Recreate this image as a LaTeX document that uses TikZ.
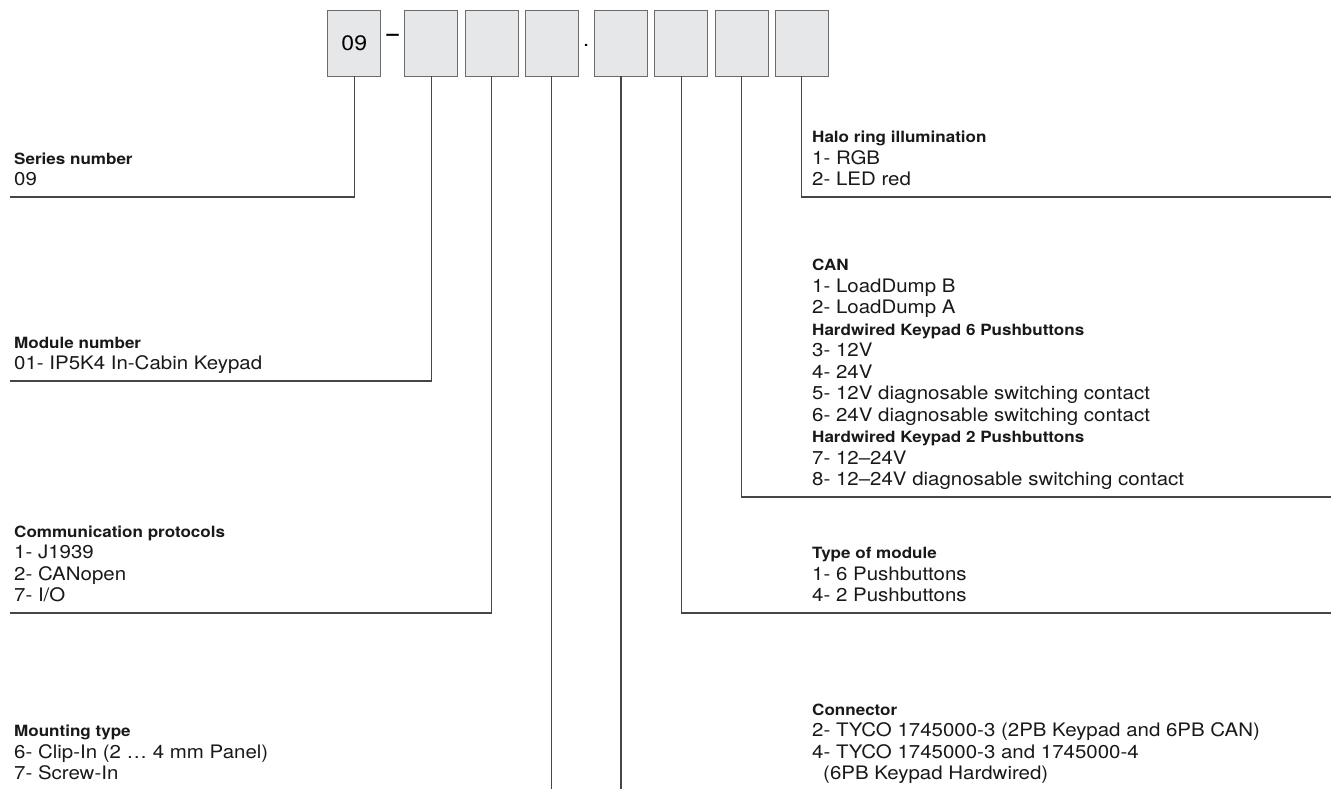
\documentclass[tikz,border=0pt]{standalone}
\usepackage{fontspec}
\setmainfont{TeX Gyre Heros}[FakeStretch=1.1]
\usetikzlibrary{positioning}

\definecolor{boxgray}{RGB}{230,231,232}
\definecolor{linegray}{RGB}{70,70,70}
\newcommand{\grp}[1]{{\bfseries\fontsize{15.5}{21.5}\selectfont #1}}

\tikzstyle{digit} = [draw=linegray!80, line width=0.8pt, rectangle, minimum width=53pt, minimum height=66pt, inner sep=0pt, fill=boxgray, font=\fontsize{21}{21}\selectfont]
\tikzstyle{sep} = [inner sep=0pt, font=\bfseries\fontsize{20}{20}\selectfont]
\tikzstyle{info} = [anchor=south west, align=left, inner sep=0pt, text depth=0pt, text=black!90, font=\fontsize{18.6}{21.5}\selectfont]
\tikzstyle{lead} = [draw=linegray, line width=1.2pt]
\tikzstyle{output} = [coordinate]

\begin{document}
\begin{tikzpicture}[x=1pt,y=-1pt]
\useasboundingbox (0,0) rectangle (1331,789);

% the code boxes
\node[digit] (b1) at (354.3,43) {09};
\node[digit,right=23pt of b1] (b2) {};
\node[digit,right=6.5pt of b2] (b3) {};
\node[digit,right=6.5pt of b3] (b4) {};
\node[digit,right=15.4pt of b4] (b5) {};
\node[digit,right=6.5pt of b5] (b6) {};
\node[digit,right=6.5pt of b6] (b7) {};
\node[digit,right=6.5pt of b7] (b8) {};
\node[sep,yshift=5.5pt] (dash) at ([xshift=11.5pt]b1.east) {–};
\node[sep,font=\fontsize{20}{20}\selectfont,yshift=-2.7pt] (dot) at ([xshift=7.7pt]b4.east) {.};

% left column
\node[info] (series) at (14,186) {\grp{Series number}\\09};
\node[info] (module) at (14,370) {\grp{Module number}\\01- IP5K4 In-Cabin Keypad};
\node[info] (comm) at (14,602) {\grp{Communication protocols}\\1- J1939\\2- CANopen\\7- I/O};
\node[info] (mount) at (14,780) {\grp{Mounting type}\\6- Clip-In (2 … 4 mm Panel)\\7- Screw-In};

% right column
\node[info] (halo) at (812,186) {\grp{Halo ring illumination}\\1- RGB\\2- LED red};
\node[info] (can) at (812,486) {\grp{CAN}\\1- LoadDump B\\2- LoadDump A\\\grp{Hardwired Keypad 6 Pushbuttons}\\3- 12V\\4- 24V\\5- 12V diagnosable switching contact\\6- 24V diagnosable switching contact\\\grp{Hardwired Keypad 2 Pushbuttons}\\7- 12–24V\\8- 12–24V diagnosable switching contact};
\node[info] (type) at (812,602) {\grp{Type of module}\\1- 6 Pushbuttons\\4- 2 Pushbuttons};
\node[info] (conn) at (812,780) {\grp{Connector}\\2- TYCO 1745000-3 (2PB Keypad and 6PB CAN)\\4- TYCO 1745000-3 and 1745000-4\\\hspace*{11pt}(6PB Keypad Hardwired)};

% line ends
\node[output] (seriesend) at (10,197) {};
\node[output] (moduleend) at (10,381) {};
\node[output] (commend) at (10,613) {};
\node[output] (mountend) at (b4.south |- 0,789) {};
\node[output] (connend) at (b5.south |- 0,789) {};
\node[output] (typeend) at (1331,613) {};
\node[output] (canend) at (1331,497) {};
\node[output] (haloend) at (1331,197) {};

\draw[lead] (b1.south) |- (seriesend);
\draw[lead] (b2.south) |- (moduleend);
\draw[lead] (b3.south) |- (commend);
\draw[lead] (b4.south) -- (mountend);
\draw[lead] (b5.south) -- (connend);
\draw[lead] (b6.south) |- (typeend);
\draw[lead] (b7.south) |- (canend);
\draw[lead] (b8.south) |- (haloend);

\end{tikzpicture}
\end{document}
